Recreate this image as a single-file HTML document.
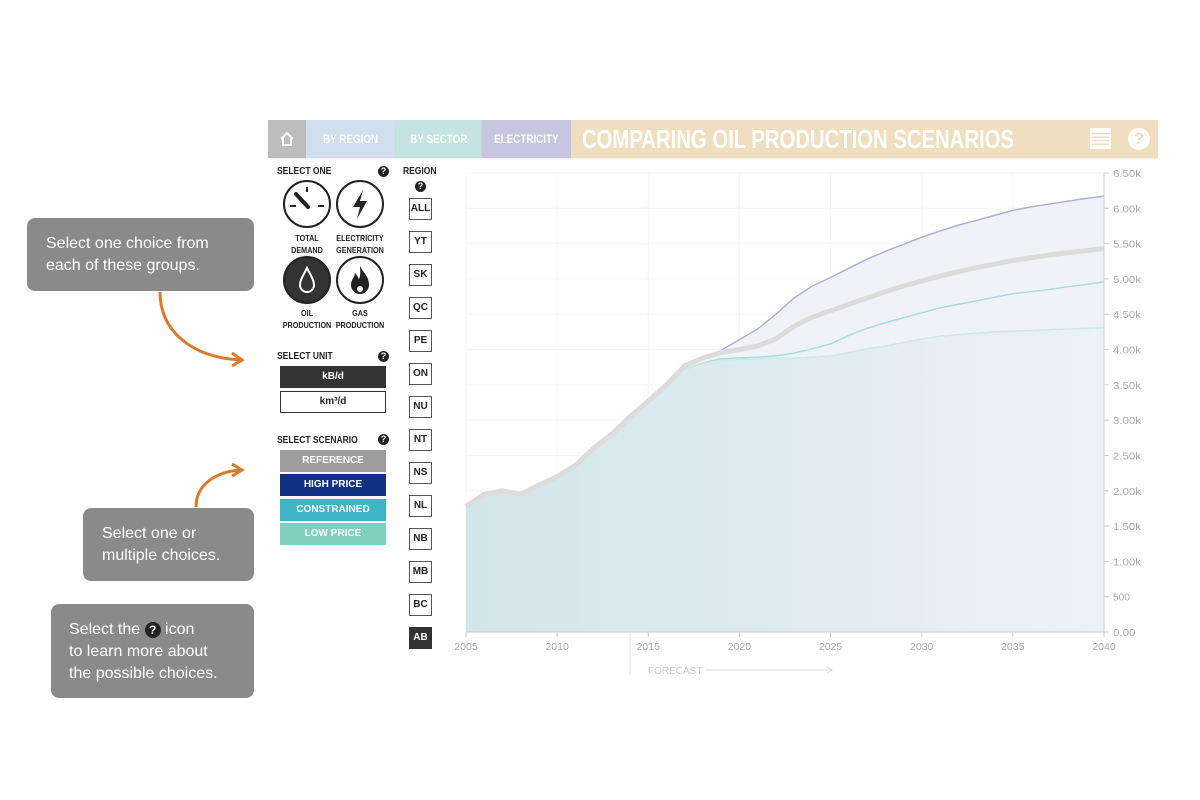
<!DOCTYPE html>
<html><head><meta charset="utf-8"><style>
*{margin:0;padding:0;box-sizing:border-box}
body{width:1200px;height:800px;background:#fff;font-family:"Liberation Sans",sans-serif;position:relative;overflow:hidden}
.abs{position:absolute}
.nav{position:absolute;top:120px;height:38px;color:#fff;font-weight:bold;font-size:12px;display:flex;align-items:center;justify-content:center;box-shadow:0 1px 2px rgba(0,0,0,.08)}
.nav span.c{display:inline-block;transform:scaleX(.82);white-space:nowrap}
.lbl{position:absolute;font-size:10px;font-weight:bold;color:#222;transform:scaleX(.85);transform-origin:left}
.q{position:absolute;width:11px;height:11px;border-radius:50%;background:#222;color:#fff;font-size:9px;font-weight:bold;text-align:center;line-height:11px}
.reg{position:absolute;left:409px;width:23px;height:22px;border:1.5px solid #555;font-size:10px;font-weight:bold;text-align:center;line-height:19px;color:#222;background:#fff}
.btn{position:absolute;left:280px;width:106px;height:22px;font-size:10px;font-weight:bold;text-align:center;line-height:22px;color:#fff}
.tip{position:absolute;background:#8a8a8a;border-radius:8px;color:#fff;font-size:16px;line-height:22px}
.ic{position:absolute;width:48px;height:48px;border-radius:50%;border:2px solid #222}
.cap{position:absolute;font-size:8.5px;font-weight:bold;color:#222;text-align:center;width:70px;line-height:12px;transform:scaleX(.85)}
</style></head><body>
<div class="nav" style="left:268px;width:38px;background:#bdbdbd">
<svg width="16" height="16" viewBox="0 0 16 16"><path d="M2 8 L8 2 L14 8 M4 7 V14 H12 V7" fill="none" stroke="#fff" stroke-width="2"/></svg></div>
<div class="nav" style="left:306px;width:90px;background:#d0deed"><span class="c">BY REGION</span></div>
<div class="nav" style="left:396px;width:86px;background:#c5e3e1"><span class="c">BY SECTOR</span></div>
<div class="nav" style="left:482px;width:89px;background:#c7c6e0"><span class="c">ELECTRICITY</span></div>
<div class="nav" style="left:571px;width:587px;background:#efdfc0;justify-content:flex-start">
<span style="font-size:26px;margin-left:11px;transform:scaleX(.78);transform-origin:left;white-space:nowrap">COMPARING OIL PRODUCTION SCENARIOS</span></div>
<div class="abs" style="left:1090px;top:128px;width:21px;height:21px;background:#fff;border:2px solid #fff"><div style="margin-top:3px;height:12px;background:repeating-linear-gradient(#efdfc0 0 1.5px,#fff 1.5px 3.5px)"></div></div>
<div class="abs" style="left:1128px;top:128px;width:22px;height:22px;border-radius:50%;background:#fff;color:#efdfc0;font-weight:bold;font-size:17px;text-align:center;line-height:22px">?</div>

<div class="lbl" style="left:277px;top:166px">SELECT ONE</div>
<div class="q" style="left:378px;top:166px">?</div>
<div class="ic" style="left:283px;top:180px"><svg width="44" height="44"><line x1="22" y1="5" x2="22" y2="10" stroke="#222" stroke-width="2"/><line x1="5" y1="24" x2="11" y2="24" stroke="#222" stroke-width="2"/><line x1="33" y1="24" x2="39" y2="24" stroke="#222" stroke-width="2"/><line x1="11" y1="12" x2="23" y2="25" stroke="#222" stroke-width="4" stroke-linecap="round"/></svg></div>
<div class="ic" style="left:336px;top:180px"><svg width="44" height="44"><path d="M25 8 L15 25 H22 L19 37 L29 19 H22 Z" fill="#222"/></svg></div>
<div class="cap" style="left:272px;top:232px">TOTAL<br>DEMAND</div>
<div class="cap" style="left:325px;top:232px">ELECTRICITY<br>GENERATION</div>
<div class="ic" style="left:283px;top:256px;background:#333"><svg width="44" height="44"><path d="M22 10 C18 18 15 22 15 27 A7 7 0 0 0 29 27 C29 22 26 18 22 10Z" fill="none" stroke="#fff" stroke-width="2"/></svg></div>
<div class="ic" style="left:336px;top:256px"><svg width="44" height="44"><path d="M22 8 C26 16 31 18 31 27 A9 9 0 0 1 13 27 C13 21 17 19 17 15 C20 18 20 20 21 21 C23 17 22 12 22 8Z" fill="#222"/><circle cx="22" cy="31" r="3" fill="#fff"/></svg></div>
<div class="cap" style="left:272px;top:307px">OIL<br>PRODUCTION</div>
<div class="cap" style="left:325px;top:307px">GAS<br>PRODUCTION</div>

<div class="lbl" style="left:277px;top:351px">SELECT UNIT</div>
<div class="q" style="left:378px;top:351px">?</div>
<div class="btn" style="top:366px;background:#333">kB/d</div>
<div class="btn" style="top:391px;background:#fff;color:#222;border:1.5px solid #333;line-height:19px">km³/d</div>
<div class="lbl" style="left:277px;top:435px">SELECT SCENARIO</div>
<div class="q" style="left:378px;top:434px">?</div>
<div class="btn" style="top:450px;background:#9e9e9e">REFERENCE</div>
<div class="btn" style="top:474px;background:#123185">HIGH PRICE</div>
<div class="btn" style="top:499px;background:#3db5c4">CONSTRAINED</div>
<div class="btn" style="top:523px;background:#80d0bf">LOW PRICE</div>

<div class="lbl" style="left:403px;top:166px">REGION</div>
<div class="q" style="left:415px;top:181px">?</div>
<div id="regs"></div>

<div class="tip" style="left:27px;top:218px;width:227px;height:73px;padding:15px 0 0 19px">Select one choice from<br>each of these groups.</div>
<div class="tip" style="left:83px;top:508px;width:171px;height:73px;padding:15px 0 0 19px">Select one or<br>multiple choices.</div>
<div class="tip" style="left:51px;top:604px;width:203px;height:94px;padding:15px 0 0 18px">Select the <span style="display:inline-block;width:16px;height:16px;border-radius:50%;background:#222;font-size:12px;font-weight:bold;text-align:center;line-height:16px">?</span> icon<br>to learn more about<br>the possible choices.</div>
<svg class="abs" style="left:0;top:0" width="1200" height="800">
<path d="M160 292 C160 330 190 357 240 360" fill="none" stroke="#dc7a2a" stroke-width="3"/>
<path d="M232 353 L242 360 L232 366" fill="none" stroke="#dc7a2a" stroke-width="3"/>
<path d="M196 507 C196 485 215 472 240 470" fill="none" stroke="#dc7a2a" stroke-width="3"/>
<path d="M232 464 L242 470 L232 476" fill="none" stroke="#dc7a2a" stroke-width="3"/>
</svg>

<svg id="chart" class="abs" style="left:0;top:0" width="1200" height="800">
<defs><linearGradient id="tg" x1="0" x2="1"><stop offset="0" stop-color="#d2e5e9"/><stop offset="1" stop-color="#ecf2f5"/></linearGradient></defs>
</svg>
<script>
const years=[];for(let y=2005;y<=2040;y++)years.push(y);
const histYears=years.slice(0,13);
const reference=[1.78,1.95,2.0,1.95,2.08,2.2,2.36,2.6,2.8,3.05,3.27,3.5,3.77,3.88,3.96,4.0,4.05,4.15,4.33,4.46,4.55,4.64,4.73,4.82,4.9,4.97,5.04,5.1,5.16,5.21,5.26,5.3,5.34,5.37,5.4,5.43];
const projYears=years.slice(12);
const highPrice=[3.78,3.87,3.99,4.14,4.29,4.5,4.73,4.9,5.02,5.15,5.28,5.39,5.49,5.59,5.68,5.76,5.83,5.9,5.97,6.02,6.06,6.1,6.14,6.17];
const constrained=[3.72,3.81,3.87,3.88,3.89,3.91,3.95,4.01,4.08,4.2,4.3,4.38,4.45,4.52,4.59,4.64,4.69,4.74,4.79,4.82,4.85,4.89,4.92,4.96];
const lowPrice=[3.72,3.8,3.85,3.86,3.87,3.88,3.88,3.89,3.91,3.96,4.01,4.05,4.1,4.15,4.19,4.21,4.23,4.25,4.26,4.27,4.28,4.29,4.30,4.31];
const yTicks=[0,0.5,1,1.5,2,2.5,3,3.5,4,4.5,5,5.5,6,6.5];
const yTickLabels=["0.00","500","1.00k","1.50k","2.00k","2.50k","3.00k","3.50k","4.00k","4.50k","5.00k","5.50k","6.00k","6.50k"];
const xTicks=[2005,2010,2015,2020,2025,2030,2035,2040];
const regions=["ALL","YT","SK","QC","PE","ON","NU","NT","NS","NL","NB","MB","BC","AB"];

const rg=document.getElementById('regs');
regions.forEach((r,i)=>{const d=document.createElement('div');d.className='reg';d.style.top=(198+i*33)+'px';d.textContent=r;
if(r==='AB'){d.style.background='#333';d.style.color='#fff';d.style.borderColor='#333';}


rg.appendChild(d);});

const X=y=>466+(y-2005)*(1104-466)/35;
const Y=v=>632-v*(632-173)/6.5;
const svg=document.getElementById('chart');const NS='http://www.w3.org/2000/svg';
function el(t,a){const e=document.createElementNS(NS,t);for(const k in a)e.setAttribute(k,a[k]);svg.appendChild(e);return e;}
yTicks.forEach(v=>{const g=el('line',{x1:466,x2:1104,y1:Y(v),y2:Y(v),stroke:'#f6f6f6'});});
xTicks.forEach(v=>{const g=el('line',{x1:X(v),x2:X(v),y1:173,y2:632,stroke:'#f6f6f6'});});
const hist=reference.slice(0,13);
const pts=(xs,vs)=>xs.map((x,i)=>X(x)+','+Y(vs[i])).join(' ');
const histPts=pts(histYears,hist);
const a1=el('polygon',{points:X(2005)+',632 '+histPts+' '+pts(projYears,highPrice)+' '+X(2040)+',632',fill:'#f1f2f8'});

const a2=el('polygon',{points:X(2005)+',632 '+histPts+' '+pts(projYears,lowPrice)+' '+X(2040)+',632',fill:'url(#tg)'});

const l1=el('polyline',{points:pts(projYears,highPrice),fill:'none',stroke:'#a9b1d8','stroke-width':1.5});

const l2=el('polyline',{points:pts(projYears,constrained),fill:'none',stroke:'#a6dde2','stroke-width':1.5});

const l3=el('polyline',{points:pts(projYears,lowPrice),fill:'none',stroke:'#cdeae4','stroke-width':1.5});

const l4=el('polyline',{points:pts(years,reference),fill:'none',stroke:'#dcdcdc','stroke-width':5,'stroke-linejoin':'round'});

const ax=el('line',{x1:466,x2:1104,y1:632,y2:632,stroke:'#ccc'});
const ay=el('line',{x1:1104,x2:1104,y1:173,y2:632,stroke:'#ccc'});
yTicks.forEach((v,i)=>{el('line',{x1:1104,x2:1109,y1:Y(v),y2:Y(v),stroke:'#ccc'});
const t=el('text',{x:1113,y:Y(v)+4,'font-size':10.5,fill:'#aaa','font-family':'Liberation Sans',textLength:yTickLabels[i].length*5.6,lengthAdjust:'spacingAndGlyphs'});t.textContent=yTickLabels[i];
});
xTicks.forEach(v=>{el('line',{x1:X(v),x2:X(v),y1:632,y2:637,stroke:'#ccc'});
const t=el('text',{x:X(v),y:650,'font-size':10.5,fill:'#aaa','text-anchor':'middle','font-family':'Liberation Sans'});t.textContent=v;
});
const fl=el('line',{x1:630,x2:630,y1:632,y2:675,stroke:'#ddd'});
const ft=el('text',{x:648,y:674,'font-size':10,fill:'#ccc','font-family':'Liberation Sans'});ft.textContent='FORECAST';

el('path',{d:'M705 670 H832 M827 667 L832 670 L827 673',stroke:'#ddd',fill:'none'});
</script>
</body></html>
